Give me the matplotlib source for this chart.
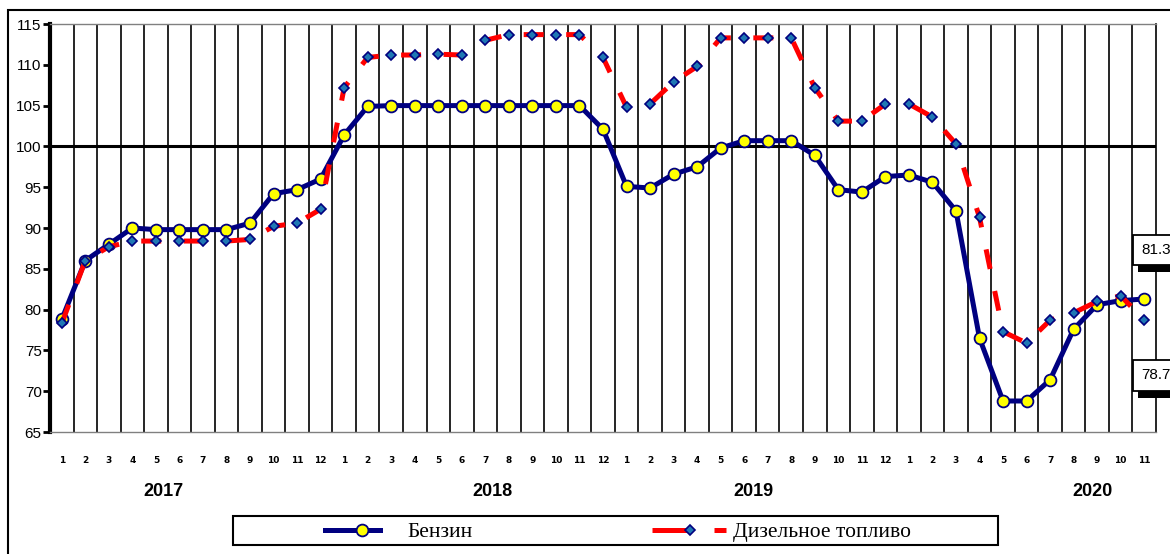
import numpy as np
import matplotlib
matplotlib.use("Agg")
import matplotlib.pyplot as plt
from matplotlib.lines import Line2D
from matplotlib.patches import Rectangle
import matplotlib.patheffects as pe

# Данные: индексы цен, январь 2017 - ноябрь 2020
months = [str(m) for m in range(1, 13)] * 3 + [str(m) for m in range(1, 12)]
years = ["2017", "2018", "2019", "2020"]
year_pos = [4.8, 18.8, 29.9, 44.3]

benzin = [78.8, 86.0, 88.0, 90.0, 89.8, 89.8, 89.8, 89.8, 90.6, 94.2, 94.7, 96.0,
          101.4, 104.9, 105.0, 105.0, 105.0, 105.0, 105.0, 105.0, 105.0, 105.0, 105.0, 102.1,
          95.1, 94.9, 96.6, 97.5, 99.8, 100.7, 100.7, 100.7, 98.9, 94.7, 94.4, 96.3,
          96.5, 95.6, 92.1, 76.5, 68.8, 68.8, 71.4, 77.6, 80.6, 81.1, 81.3]
diesel = [78.3, 86.0, 87.7, 88.4, 88.4, 88.4, 88.4, 88.4, 88.6, 90.2, 90.6, 92.3,
          107.2, 110.9, 111.2, 111.2, 111.3, 111.2, 113.0, 113.7, 113.7, 113.7, 113.7, 110.9,
          104.8, 105.2, 107.9, 109.8, 113.3, 113.3, 113.3, 113.3, 107.2, 103.1, 103.1, 105.2,
          105.2, 103.6, 100.3, 91.3, 77.3, 75.9, 78.7, 79.6, 81.0, 81.7, 78.7]

x = np.arange(len(benzin)) + 0.5

fig = plt.figure(figsize=(11.7, 5.54), dpi=100)
ax = fig.add_axes([50/1170, 1-432/554, 1106/1170, 408/554])

# сетка
for g in range(1, len(benzin)):
    ax.axvline(g, color="black", lw=1.2, zorder=1)
ax.axhline(100, color="black", lw=2.2, zorder=2)

diesel_style = dict(color="red", lw=3.6, dashes=(4, 4.5), marker="D", markersize=5.5,
                    markerfacecolor="#1f78b4", markeredgecolor="#00007f", markeredgewidth=1.2)
benzin_style = dict(color="#000080", lw=3.6, marker="o", markersize=8.5,
                    markerfacecolor="yellow", markeredgecolor="#000080", markeredgewidth=1.3)

ax.plot(x, diesel, zorder=4, **diesel_style)
ax.plot(x, benzin, zorder=3, **benzin_style)

ax.set_xlim(0, len(benzin))
ax.set_ylim(65, 115)
ax.set_yticks(range(65, 116, 5))
ax.set_xticks(x)
ax.set_xticklabels(months, fontsize=6.5, fontweight="bold", family="DejaVu Sans")
ax.tick_params(axis="x", length=0, pad=17)
ax.tick_params(axis="y", direction="out", length=5, width=2, labelsize=11, pad=1)
for lab in ax.get_yticklabels():
    lab.set_family("Liberation Sans")

ax.spines["left"].set_linewidth(3)
ax.spines["right"].set_linewidth(1.2)
ax.spines["top"].set_color("#808080")
ax.spines["top"].set_linewidth(1)
ax.spines["bottom"].set_color("#808080")
ax.spines["bottom"].set_linewidth(1)

for yr, p in zip(years, year_pos):
    ax.text(p, -0.145, yr, transform=ax.get_xaxis_transform(), ha="center", va="center",
            fontsize=13, fontweight="bold", family="Liberation Sans")

# подписи последних значений
for val, off in [(benzin[-1], 49), (diesel[-1], -55)]:
    t = ax.annotate(f"{val:.1f}", xy=(x[-1], val), xytext=(1141, off),
                    textcoords=("figure pixels", "offset pixels"), annotation_clip=False,
                    fontsize=11, family="Liberation Sans", va="center", ha="left")
    t.set_bbox(dict(boxstyle="square,pad=0.55", fc="white", ec="black", lw=1.3))
    t.get_bbox_patch().set_path_effects([
        pe.SimplePatchShadow(offset=(4, -5), shadow_rgbFace="black", alpha=1), pe.Normal()])

# рамка диаграммы
fig.add_artist(Rectangle((8/1170, -0.1), 1.2, 1.1 - 10/554, transform=fig.transFigure,
                         fill=False, ec="black", lw=1.5))

# легенда
fig.add_artist(Rectangle((233/1170, 1-545/554), 765/1170, 29/554, transform=fig.transFigure,
                         fill=False, ec="black", lw=1.5))
ly = 1 - 530/554
fig.add_artist(Line2D([325/1170, 380/1170], [ly, ly], transform=fig.transFigure,
                      **{k: v for k, v in benzin_style.items() if not k.startswith("marker")}))
fig.add_artist(Line2D([362/1170], [ly], transform=fig.transFigure, ls="none",
                      **{k: v for k, v in benzin_style.items() if k.startswith("marker")}))
fig.text(407/1170, ly - 0.004, "Бензин", fontsize=15.5, family="Liberation Serif", va="center")
fig.add_artist(Line2D([652/1170, 690/1170], [ly, ly], transform=fig.transFigure,
                      color="red", lw=3.6, solid_capstyle="butt"))
fig.add_artist(Line2D([714/1170, 726/1170], [ly, ly], transform=fig.transFigure,
                      color="red", lw=3.6, solid_capstyle="butt"))
fig.add_artist(Line2D([690/1170], [ly], transform=fig.transFigure, ls="none",
                      **{k: v for k, v in diesel_style.items() if k.startswith("marker")}))
fig.text(733/1170, ly - 0.004, "Дизельное топливо", fontsize=15.5, family="Liberation Serif",
         va="center")

fig.savefig("out.png", dpi=100)
